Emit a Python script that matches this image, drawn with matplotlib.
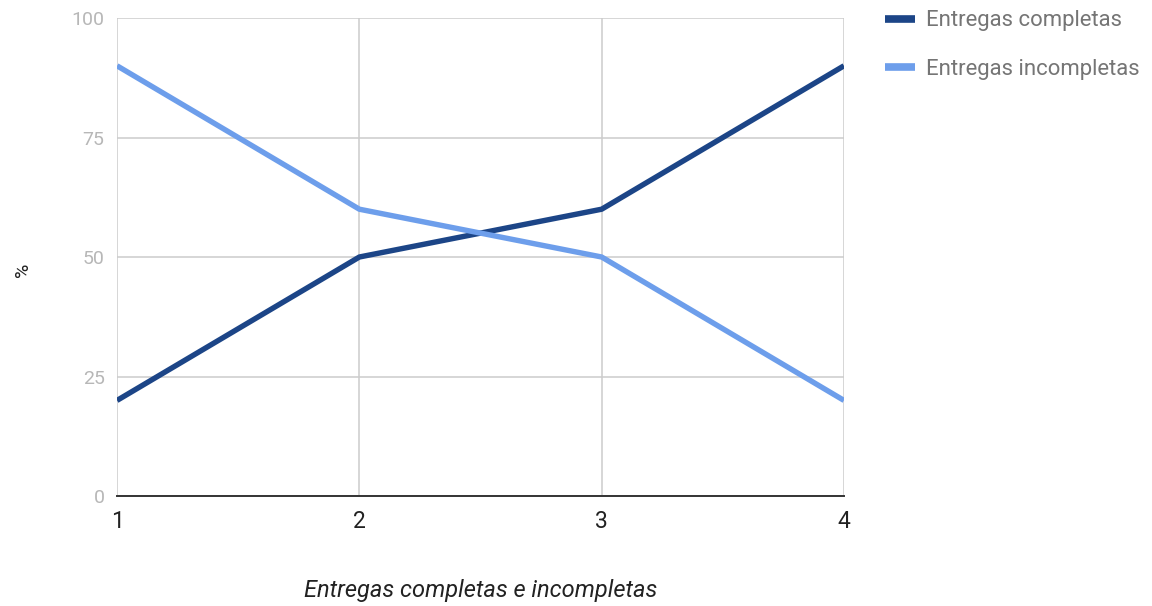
import matplotlib.pyplot as plt

plt.rcParams['font.family'] = ['Roboto', 'DejaVu Sans']

semanas = [1, 2, 3, 4]
completas = [20, 50, 60, 90]
incompletas = [90, 60, 50, 20]
yticks = [0, 25, 50, 75, 100]

fig = plt.figure(figsize=(11.52, 6.06), dpi=100)
ax = fig.add_axes([0.1016, 0.1815, 0.6310, 0.7888])

ax.plot(semanas, completas, color='#1c4587', lw=3.9, label='Entregas completas',
        solid_capstyle='butt', zorder=3)
ax.plot(semanas, incompletas, color='#6d9eeb', lw=3.9, label='Entregas incompletas',
        solid_capstyle='butt', zorder=3)

ax.set_xlim(1, 4)
ax.set_ylim(0, 100)
ax.set_xticks(semanas)
ax.set_yticks(yticks)
ax.grid(True, color='#cccccc', lw=1.1)
for s in ['top', 'right', 'left']:
    ax.spines[s].set_visible(False)
ax.spines['bottom'].set_color('#333333')
ax.spines['bottom'].set_linewidth(1.4)
ax.spines['bottom'].set_zorder(4)
ax.tick_params(length=0)
ax.tick_params(axis='y', labelcolor='#b7b7b7', labelsize=14, pad=9)
ax.tick_params(axis='x', labelcolor='#222222', labelsize=16.5, pad=10)

ax.set_xlabel('Entregas completas e incompletas', fontsize=17, style='italic',
              color='#222222', va='center')
ax.xaxis.set_label_coords(0.5, -0.197)
ax.set_ylabel('%', fontsize=14, color='#222222', va='center')
ax.yaxis.set_label_coords(-0.129, 0.473)

leg = ax.legend(loc='upper left', bbox_to_anchor=(0.768, 0.983),
                bbox_transform=fig.transFigure, frameon=False, borderpad=0,
                borderaxespad=0, fontsize=15.9, labelspacing=1.25,
                handlelength=1.35, handletextpad=0.5)
for t in leg.get_texts():
    t.set_color('#757575')
for h in leg.get_lines():
    h.set_linewidth(5.5)

fig.savefig('out.png', dpi=100)
